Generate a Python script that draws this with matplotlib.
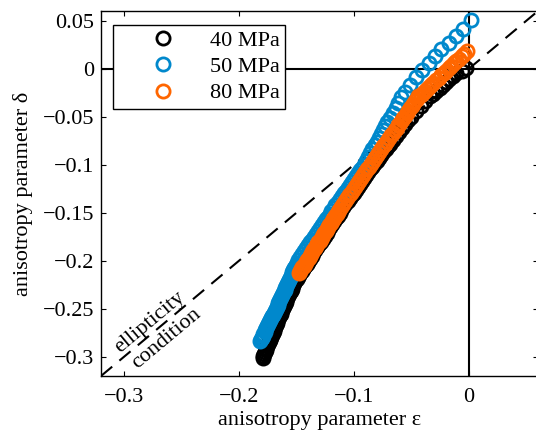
import matplotlib
matplotlib.use("Agg")
import matplotlib.pyplot as plt
import numpy as np

# ---------------- data ----------------
eps_50 = [0.0015, -0.005, -0.011, -0.017, -0.024, -0.030, -0.035, -0.041, -0.046, -0.051, -0.056,
          -0.0588, -0.0616, -0.0639, -0.0663, -0.0686, -0.0709, -0.0728, -0.0747, -0.0765, -0.0784,
          -0.0803, -0.0821, -0.0840, -0.0859, -0.0878, -0.0896, -0.0915,
          -0.0933, -0.0950, -0.0968, -0.0985, -0.1003, -0.1020, -0.1038, -0.1055, -0.1073, -0.1091,
          -0.1108, -0.1126, -0.1143, -0.1161, -0.1178, -0.1196,
          -0.1213, -0.1230, -0.1247, -0.1264, -0.1281, -0.1298, -0.1315, -0.1332, -0.1349, -0.1366,
          -0.1382, -0.1399, -0.1416, -0.1433, -0.1450, -0.1467, -0.1484,
          -0.1498, -0.1505, -0.1513, -0.1520, -0.1528, -0.1536, -0.1543, -0.1551, -0.1558, -0.1566,
          -0.1574, -0.1581, -0.1589, -0.1596, -0.1604, -0.1612, -0.1619, -0.1627, -0.1634, -0.1642,
          -0.1650, -0.1657, -0.1665, -0.1672, -0.1680,
          -0.1688, -0.1696, -0.1705, -0.1713, -0.1721, -0.1729, -0.1737, -0.1746, -0.1754, -0.1762,
          -0.1770, -0.1778, -0.1787, -0.1795, -0.1803, -0.1811, -0.1819]
delta_50 = [0.051, 0.041, 0.034, 0.027, 0.020, 0.013, 0.006, -0.001, -0.009, -0.017, -0.024,
            -0.030, -0.036, -0.041, -0.046, -0.051, -0.056, -0.060, -0.064, -0.068, -0.072,
            -0.076, -0.080, -0.084, -0.088, -0.092, -0.096, -0.100,
            -0.103, -0.106, -0.109, -0.112, -0.115, -0.118, -0.121, -0.124, -0.127, -0.130,
            -0.133, -0.136, -0.139, -0.142, -0.145, -0.148,
            -0.151, -0.154, -0.157, -0.160, -0.163, -0.166, -0.169, -0.172, -0.175, -0.178,
            -0.181, -0.184, -0.187, -0.190, -0.193, -0.196, -0.199,
            -0.202, -0.204, -0.206, -0.208, -0.210, -0.212, -0.214, -0.216, -0.218, -0.220,
            -0.222, -0.224, -0.226, -0.228, -0.230, -0.232, -0.234, -0.236, -0.238, -0.240,
            -0.242, -0.244, -0.246, -0.248, -0.250,
            -0.252, -0.254, -0.256, -0.258, -0.260, -0.262, -0.264, -0.266, -0.268, -0.270,
            -0.272, -0.274, -0.276, -0.278, -0.280, -0.282, -0.284]

eps_80 = [-0.0020, -0.0042, -0.0065, -0.0087, -0.0109, -0.0132, -0.0154, -0.0176, -0.0198, -0.0220,
          -0.0243, -0.0265, -0.0287, -0.0309, -0.0332, -0.0350, -0.0367, -0.0385, -0.0403, -0.0421,
          -0.0440,
          -0.0455, -0.0469, -0.0484, -0.0499, -0.0513, -0.0528, -0.0542, -0.0557, -0.0572, -0.0586,
          -0.0601, -0.0616, -0.0630, -0.0645, -0.0659, -0.0674,
          -0.0692, -0.0709, -0.0727, -0.0744, -0.0762, -0.0779, -0.0797, -0.0814, -0.0832, -0.0849,
          -0.0867, -0.0884, -0.0902, -0.0919, -0.0937, -0.0954, -0.0972, -0.0990, -0.1007, -0.1025,
          -0.1042, -0.1060, -0.1077, -0.1095, -0.1112, -0.1130,
          -0.1141, -0.1151, -0.1162, -0.1172, -0.1183, -0.1194, -0.1204, -0.1215, -0.1225, -0.1236,
          -0.1247, -0.1257, -0.1268, -0.1278, -0.1289, -0.1300, -0.1310, -0.1321, -0.1331, -0.1342,
          -0.1353, -0.1363, -0.1374, -0.1384, -0.1395, -0.1406, -0.1416, -0.1427, -0.1437, -0.1448,
          -0.1459, -0.1469, -0.1480]
delta_80 = [0.018, 0.0155, 0.013, 0.0105, 0.008, 0.0055, 0.003, 0.0005, -0.002, -0.0045,
            -0.007, -0.0095, -0.012, -0.0145, -0.017, -0.019, -0.021, -0.023, -0.025, -0.027,
            -0.029,
            -0.0315, -0.034, -0.0365, -0.039, -0.0415, -0.044, -0.0465, -0.049, -0.0515, -0.054,
            -0.0565, -0.059, -0.0615, -0.064, -0.0665, -0.069,
            -0.072, -0.075, -0.078, -0.081, -0.084, -0.087, -0.090, -0.093, -0.096, -0.099,
            -0.102, -0.105, -0.108, -0.111, -0.114, -0.117, -0.120, -0.123, -0.126, -0.129,
            -0.132, -0.135, -0.138, -0.141, -0.144, -0.147,
            -0.149, -0.151, -0.153, -0.155, -0.157, -0.159, -0.161, -0.163, -0.165, -0.167,
            -0.169, -0.171, -0.173, -0.175, -0.177, -0.179, -0.181, -0.183, -0.185, -0.187,
            -0.189, -0.191, -0.193, -0.195, -0.197, -0.199, -0.201, -0.203, -0.205, -0.207,
            -0.209, -0.211, -0.213]

eps_40 = [-0.0030, -0.0058, -0.0110, -0.0140, -0.0170, -0.0199, -0.0228, -0.0256, -0.0285, -0.0312,
          -0.0340, -0.0380, -0.0420, -0.0460, -0.0505,
          -0.0530, -0.0556, -0.0582, -0.0608, -0.0634, -0.0660, -0.0685, -0.0705, -0.0724, -0.0744,
          -0.0763, -0.0783, -0.0803, -0.0823,
          -0.0842, -0.0860, -0.0878, -0.0896, -0.0913, -0.0931, -0.0949, -0.0967, -0.0985, -0.1003,
          -0.1021, -0.1038, -0.1056, -0.1074, -0.1092, -0.1110,
          -0.1126, -0.1142, -0.1159, -0.1175, -0.1191, -0.1207, -0.1223, -0.1239, -0.1256, -0.1272,
          -0.1288, -0.1304, -0.1320, -0.1336, -0.1353, -0.1369, -0.1385, -0.1401, -0.1412, -0.1423,
          -0.1434, -0.1444, -0.1455, -0.1466, -0.1477, -0.1488, -0.1498, -0.1509, -0.1520,
          -0.1527, -0.1535, -0.1542, -0.1550, -0.1557, -0.1564, -0.1572, -0.1579, -0.1587, -0.1594,
          -0.1601, -0.1609, -0.1616,
          -0.1625, -0.1632, -0.1639, -0.1646, -0.1652, -0.1659, -0.1666, -0.1673, -0.1680, -0.1686,
          -0.1693, -0.1700, -0.1707, -0.1714, -0.1720, -0.1727, -0.1734, -0.1741, -0.1748, -0.1754,
          -0.1761, -0.1768, -0.1775, -0.1782, -0.1788, -0.1795]
delta_40 = [0.001, -0.002, -0.005, -0.008, -0.011, -0.014, -0.017, -0.020, -0.023, -0.026,
            -0.029, -0.034, -0.039, -0.044, -0.050,
            -0.054, -0.058, -0.062, -0.066, -0.070, -0.074, -0.078, -0.081, -0.084, -0.087,
            -0.090, -0.093, -0.096, -0.099,
            -0.102, -0.105, -0.108, -0.111, -0.114, -0.117, -0.120, -0.123, -0.126, -0.129,
            -0.132, -0.135, -0.138, -0.141, -0.144, -0.147,
            -0.150, -0.153, -0.156, -0.159, -0.162, -0.165, -0.168, -0.171, -0.174, -0.177,
            -0.180, -0.183, -0.186, -0.189, -0.192, -0.195, -0.198, -0.201, -0.203, -0.205,
            -0.207, -0.209, -0.211, -0.213, -0.215, -0.217, -0.219, -0.221, -0.223,
            -0.225, -0.227, -0.229, -0.231, -0.233, -0.235, -0.237, -0.239, -0.241, -0.243,
            -0.245, -0.247, -0.249,
            -0.251, -0.253, -0.255, -0.257, -0.259, -0.261, -0.263, -0.265, -0.267, -0.269,
            -0.271, -0.273, -0.275, -0.277, -0.279, -0.281, -0.283, -0.285, -0.287, -0.289,
            -0.291, -0.293, -0.295, -0.297, -0.299, -0.301]

series_labels = ["40 MPa", "50 MPa", "80 MPa"]
series_colors = ["#000000", "#0088CC", "#FF6600"]

x_ticks = [-0.3, -0.2, -0.1, 0]
x_ticklabels = ["\u22120.3", "\u22120.2", "\u22120.1", "0"]
y_ticks = [-0.3, -0.25, -0.2, -0.15, -0.1, -0.05, 0, 0.05]
y_ticklabels = ["\u22120.3", "\u22120.25", "\u22120.2", "\u22120.15", "\u22120.1", "\u22120.05", "0", "0.05"]
x_lim = (-0.32, 0.06)
y_lim = (-0.32, 0.06)

# ---------------- figure ----------------
plt.rcParams["font.family"] = ["Liberation Serif", "DejaVu Serif"]
fs = 16

fig = plt.figure(figsize=(5.36, 4.34), dpi=100)
ax = fig.add_axes([101 / 536, 1 - 376 / 434, 437 / 536, 365 / 434])

# reference lines
ax.axhline(0, color="black", lw=1.5, zorder=1)
ax.axvline(0, color="black", lw=1.5, zorder=1)
ax.plot(x_lim, y_lim, color="black", lw=1.5, ls=(0, (7, 4.5)), zorder=1)

for eps, dlt, lab, col in zip([eps_40, eps_50, eps_80], [delta_40, delta_50, delta_80],
                              series_labels, series_colors):
    ax.plot(eps, dlt, ls="none", marker="o", ms=9.5, mfc="none", mec=col, mew=2.0,
            label=lab, zorder=3)

ax.set_xlim(*x_lim)
ax.set_ylim(*y_lim)
ax.set_xticks(x_ticks)
ax.set_xticklabels(x_ticklabels, fontsize=fs)
ax.set_yticks(y_ticks)
ax.set_yticklabels(y_ticklabels, fontsize=fs)
ax.tick_params(direction="in", length=3.5, width=0.8, top=True, right=True)
ax.tick_params(axis="x", pad=9)
ax.tick_params(axis="y", pad=5)
for sp in ax.spines.values():
    sp.set_linewidth(1.0)

ax.set_xlabel("anisotropy parameter \u03b5", fontsize=fs)
ax.set_ylabel("anisotropy parameter \u03b4", fontsize=fs)
ax.xaxis.set_label_coords(0.501, -0.097)
ax.yaxis.set_label_coords(-0.155, 0.5)

leg = ax.legend(loc="upper left", bbox_to_anchor=((113 - 101) / 437, (376 - 25) / 365),
                borderaxespad=0, fontsize=fs, frameon=True, fancybox=False,
                edgecolor="black", framealpha=1, handletextpad=0.1, borderpad=0.25,
                labelspacing=0.25, handlelength=4.0, numpoints=1)
leg.get_frame().set_linewidth(1.0)

ang = np.degrees(np.arctan((365 / 0.38) / (437 / 0.38)))
ax.text(-0.2774, -0.264, "ellipticity", rotation=ang, ha="center", va="center",
        fontsize=fs, rotation_mode="anchor")
ax.text(-0.263, -0.281, "condition", rotation=ang, ha="center", va="center",
        fontsize=fs, rotation_mode="anchor")

fig.savefig("out.png", dpi=100)
